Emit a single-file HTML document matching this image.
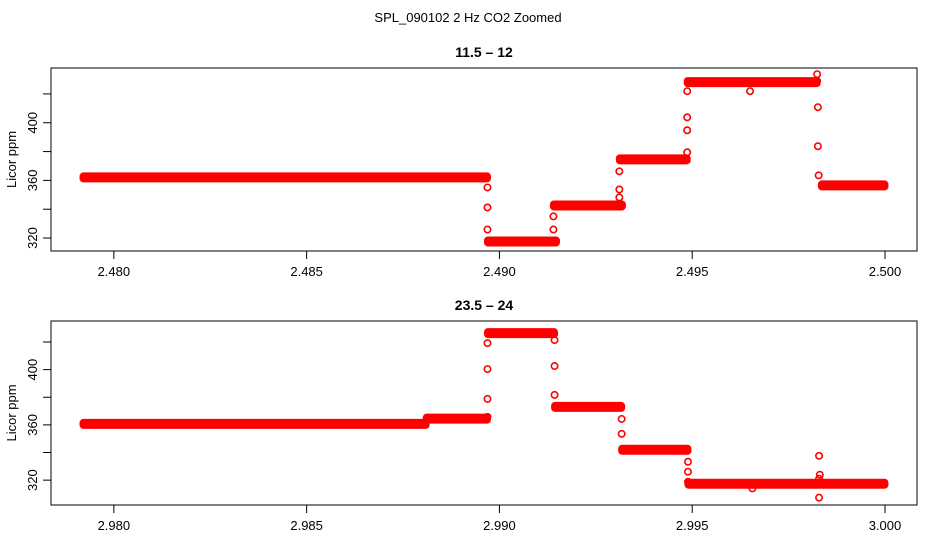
<!DOCTYPE html>
<html><head><meta charset="utf-8"><style>
body{margin:0;background:#fff;}
svg{display:block;font-family:"Liberation Sans",Arial,sans-serif;}
</style></head><body>
<svg id="chart" width="936" height="540">
<text x="468" y="22" text-anchor="middle" font-size="13">SPL_090102  2 Hz CO2 Zoomed</text>
</svg>
<script>
// Panel 1 data
const p1Plateaus = [[2.4792,2.48969,362.1],[2.48969,2.49148,317.6],[2.4914,2.49319,342.6],[2.49311,2.49487,374.6],[2.49487,2.49824,428.2],[2.49835,2.5,356.5]];
const p1Times = [2.48969,2.48969,2.48969,2.4914,2.4914,2.49311,2.49311,2.49311,2.49487,2.49487,2.49487,2.49487,2.4965,2.49824,2.49824,2.49826,2.49826,2.49828];
const p1Values = [355.1,341.2,325.9,325.9,335,348.2,353.7,366.3,379.5,394.8,403.8,421.9,421.9,433.7,429,410.8,383.7,363.5];
// Panel 2 data
const p2Plateaus = [[2.9792,2.9881,360.7],[2.9881,2.98969,364.5],[2.98969,2.99143,426.4],[2.99143,2.99317,373],[2.99317,2.99489,342],[2.99489,3.0,317.4]];
const p2Times = [2.98969,2.98969,2.98969,2.98969,2.99143,2.99143,2.99143,2.99317,2.99317,2.99489,2.99489,2.99489,2.99656,2.99829,2.99829,2.99831,2.99829];
const p2Values = [365.8,378.8,400.4,419.2,421.4,402.6,381.7,364.3,353.5,333.3,326.1,318.8,314,337.6,307.3,323.9,321];
const p1XTicks = [2.480,2.485,2.490,2.495,2.500];
const p2XTicks = [2.980,2.985,2.990,2.995,3.000];
const yTicks = [320,340,360,380,400,420];
const yLabels = [320,360,400];

const NS="http://www.w3.org/2000/svg";
const svg=document.getElementById('chart');
function mk(tag,attrs,parent){const e=document.createElementNS(NS,tag);for(const k in attrs)e.setAttribute(k,attrs[k]);(parent||svg).appendChild(e);return e;}

function panel(opt){
  const {left,right,top,bottom,xmin,xmax,ymin,ymax,title,plateaus,times,values,xticks,name}=opt;
  const g=mk('g',{});
  
  
  const sx=t=>left+(t-xmin)/(xmax-xmin)*(right-left);
  const sy=v=>bottom-(v-ymin)/(ymax-ymin)*(bottom-top);
  const t=mk('text',{x:(left+right)/2,y:top-11,'text-anchor':'middle','font-size':'14','font-weight':'bold'},g);
  t.textContent=title;
  
  
  const box=mk('rect',{x:left,y:top,width:right-left,height:bottom-top,fill:'none',stroke:'#000','stroke-width':1},g);
  
  
  // x axis
  const xa=mk('g',{},g);
  
  
  mk('line',{x1:sx(xticks[0]),x2:sx(xticks[xticks.length-1]),y1:bottom,y2:bottom,stroke:'#000'},xa);
  xticks.forEach(v=>{
    const x=sx(v);
    mk('line',{x1:x,x2:x,y1:bottom,y2:bottom+8,stroke:'#000'},xa);
    const l=mk('text',{x:x,y:bottom+25,'text-anchor':'middle','font-size':'13'},xa);
    l.textContent=v.toFixed(3);
    
    
  });
  // y axis
  const ya=mk('g',{},g);
  
  
  const vis=yTicks.filter(v=>v>=ymin&&v<=ymax);
  mk('line',{x1:left,x2:left,y1:sy(vis[0]),y2:sy(vis[vis.length-1]),stroke:'#000'},ya);
  vis.forEach(v=>{
    const y=sy(v);
    mk('line',{x1:left,x2:left-8,y1:y,y2:y,stroke:'#000'},ya);
    if(yLabels.includes(v)){
      const l=mk('text',{x:0,y:0,'text-anchor':'middle','font-size':'13',transform:`translate(${left-14},${y}) rotate(-90)`},ya);
      l.textContent=v;
      
      
    }
  });
  const yt=mk('text',{x:0,y:0,'text-anchor':'middle','font-size':'13',transform:`translate(16,${(top+bottom)/2}) rotate(-90)`},g);
  yt.textContent='Licor ppm';
  
  
  // series
  const s=mk('g',{fill:'none',stroke:'#ff0000'},g);
  
  
  plateaus.forEach(p=>{
    const x1=sx(p[0]),x2=sx(p[1]),y=sy(p[2]);
    const r=mk('rect',{x:x1-3.5,y:y-5,width:x2-x1+7,height:10,rx:4,fill:'#ff0000',stroke:'none'},s);
    
    
  });
  times.forEach((tm,i)=>{
    const c=mk('circle',{cx:sx(tm),cy:sy(values[i]),r:3.2,'stroke-width':1.6},s);
    
    
  });
}
panel({left:51,right:917,top:68,bottom:251,xmin:2.47837,xmax:2.50083,ymin:311,ymax:438,title:'11.5 – 12',plateaus:p1Plateaus,times:p1Times,values:p1Values,xticks:p1XTicks,name:'panel-11-5-12'});
panel({left:51,right:917,top:321,bottom:505,xmin:2.97837,xmax:3.00083,ymin:302,ymax:435.2,title:'23.5 – 24',plateaus:p2Plateaus,times:p2Times,values:p2Values,xticks:p2XTicks,name:'panel-23-5-24'});
</script>
</body></html>
